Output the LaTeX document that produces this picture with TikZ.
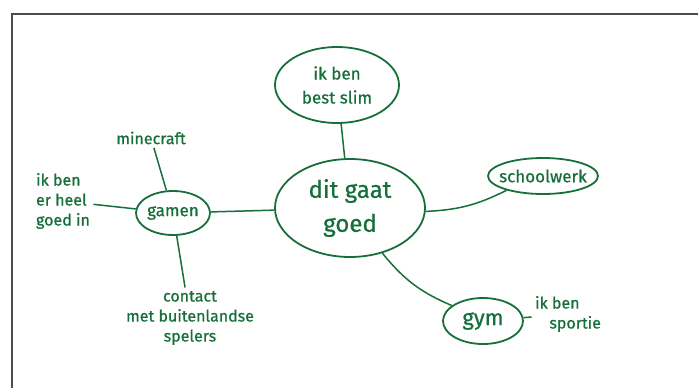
\documentclass[tikz,border=0pt]{standalone}
\usepackage{fontspec}
\setmainfont{Fira Sans}[BoldFont=*,BoldFeatures={FakeBold=0.7}]
\usepackage{tikz}
\usetikzlibrary{shapes.geometric}

\definecolor{pen}{RGB}{22,110,58}

\begin{document}
\begin{tikzpicture}[x=1pt,y=-1pt]
\tikzset{bubble/.style = {shape=ellipse,draw=pen,line width=1.8pt,inner xsep=-14pt,inner ysep=0pt,text=pen,align=center}}
\tikzset{word/.style = {text=pen,align=center,font=\bfseries\fontsize{16}{20}\selectfont}}
\tikzset{edge/.style = {-,draw=pen,line width=1.5pt}}
\useasboundingbox (0,0) rectangle (698,388);
\draw[line width=1.8pt,draw=black!70] (12,388) -- (12,14) -- (698,14);
\node[bubble,minimum width=150,minimum height=98,font=\bfseries\fontsize{24}{34}\selectfont] (dit) at (350,208) {dit gaat\\goed};
\node[bubble,minimum width=124,minimum height=76,font=\bfseries\fontsize{17}{24}\selectfont] (slim) at (337,85) {ik ben\\best slim};
\node[bubble,minimum width=110,minimum height=36,font=\bfseries\fontsize{17}{20}\selectfont] (school) at (543,176) {schoolwerk};
\node[bubble,minimum width=74,minimum height=44,font=\bfseries\fontsize{17}{20}\selectfont] (gamen) at (173,213) {gamen};
\node[bubble,minimum width=80,minimum height=46,font=\bfseries\fontsize{22}{24}\selectfont] (gym) at (483,321) {gym};
\node[word] (mine) at (151,138) {minecraft};
\node[word,align=left] (heel) at (63,201) {ik ben\\er heel\\goed in};
\node[word] (contact) at (190,318) {contact\\met buitenlandse\\spelers};
\node[word,align=left] (sport) at (568,314) {ik ben\\\hspace{0.9em}sportie};
\draw[edge] (slim) to (dit);
\draw[edge] (dit) to[bend right=12] (school);
\draw[edge] (dit) to[bend right=14] (gym);
\draw[edge] (gamen) to (dit);
\draw[edge] (gamen) to (mine);
\draw[edge] (gamen) to (heel);
\draw[edge] (gamen) to (contact);
\draw[edge] (gym) to (sport);
\end{tikzpicture}
\end{document}
